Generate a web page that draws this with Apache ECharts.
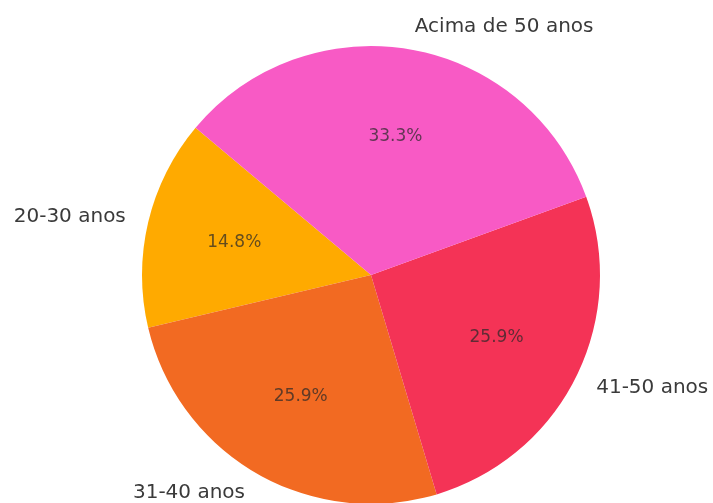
<!DOCTYPE html>
<html>
<head>
<meta charset="utf-8">
<script src="https://cdn.jsdelivr.net/npm/echarts@6/dist/echarts.min.js"></script>
<style>
  html, body { margin: 0; padding: 0; background: #fff; }
  #chart { width: 713px; height: 503px; }
</style>
</head>
<body>
<div id="chart"></div>
<script>
// faixas etárias (ordem anti-horária a partir de 140°)
const categories = ["20-30 anos", "31-40 anos", "41-50 anos", "Acima de 50 anos"];
const counts = [4, 7, 7, 9];
const colors = ["#FFAA00", "#F26A22", "#F43356", "#F85AC5"];

const chart = echarts.init(document.getElementById("chart"));

const pieData = categories.map((name, i) => ({
  name: name,
  value: counts[i],
  itemStyle: { color: colors[i] }
}));

chart.setOption({
  animation: false,
  series: [
    {
      // fatias + rótulos externos
      type: "pie",
      center: [371, 275],
      radius: [0, 229],
      startAngle: 140,
      clockwise: false,
      avoidLabelOverlap: false,
      data: pieData,
      label: {
        show: true,
        position: "outside",
        distanceToLabelLine: 0,
        fontFamily: "DejaVu Sans",
        fontSize: 20,
        color: "#3a3a3a"
      },
      labelLine: { show: false, length: 23, length2: 0 },
      emphasis: { disabled: true }
    },
    {
      // só as porcentagens, a 0.6 do raio
      type: "pie",
      center: [371, 275],
      radius: [46, 229],
      startAngle: 140,
      clockwise: false,
      silent: true,
      data: pieData.map((d) => ({ name: d.name, value: d.value })),
      itemStyle: { color: "rgba(0,0,0,0)" },
      label: {
        show: true,
        position: "inside",
        fontFamily: "DejaVu Sans",
        fontSize: 17,
        color: "rgba(40,40,40,0.72)",
        formatter: (p) => p.percent.toFixed(1) + "%"
      },
      labelLine: { show: false }
    }
  ]
});
</script>
</body>
</html>
